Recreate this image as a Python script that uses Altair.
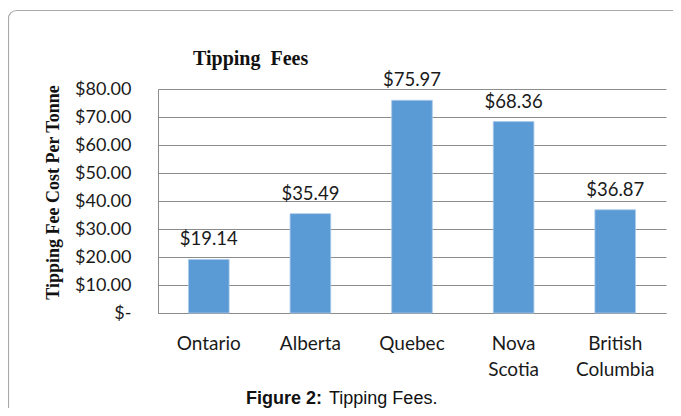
import altair as alt
import pandas as pd

provinces = ["Ontario", "Alberta", "Quebec", "Nova Scotia", "British Columbia"]
fees = [19.14, 35.49, 75.97, 68.36, 36.87]
fee_labels = ["$19.14", "$35.49", "$75.97", "$68.36", "$36.87"]
y_ticks = [0, 10, 20, 30, 40, 50, 60, 70, 80]
chart_title = ["Tipping\u00a0 Fees"]
caption_bold = ["Figure 2:"]
caption_regular = ["Tipping Fees."]

df = pd.DataFrame({"province": provinces, "fee": fees, "label": fee_labels})
one = pd.DataFrame({"title": chart_title, "cb": caption_bold, "cr": caption_regular})

W, H = 508, 224

x_enc = alt.X("province:N", sort=provinces,
              scale=alt.Scale(paddingInner=0.6, paddingOuter=0.3),
              axis=alt.Axis(title=None, labelAngle=0, labelFont="Lato", labelFontSize=19,
                            labelColor="#1a1a1a", labelPadding=21, ticks=False,
                            domainColor="#8c8c8c", labelLineHeight=26,
                            labelExpr="split(datum.label, ' ')", grid=False))
y_enc = alt.Y("fee:Q", scale=alt.Scale(domain=[0, 80], nice=False),
              axis=alt.Axis(title="Tipping Fee Cost Per Tonne", values=y_ticks,
                            labelExpr="datum.value == 0 ? '$-\u00a0\u00a0' : '$' + format(datum.value, '.2f')",
                            labelFont="Lato", labelFontSize=18, labelColor="#1a1a1a",
                            labelOverlap=False, labelPadding=27, ticks=False,
                            domainColor="#8c8c8c", gridColor="#8c8c8c", gridWidth=1,
                            titleFont="Liberation Serif", titleFontSize=18,
                            titleFontWeight="bold", titleColor="#111",
                            titleX=-96, titleY=103, titleAlign="center",
                            titleBaseline="bottom", titleAngle=270))

frame = alt.Chart(one).mark_rect(filled=False, stroke="#aaaaaa", strokeWidth=1.2,
                                 cornerRadius=8).encode(
    x=alt.value(-149.5), x2=alt.value(800), y=alt.value(-78.5), y2=alt.value(500))

bars = alt.Chart(df).mark_bar(color="#5B9BD5", stroke="#a9c9ea", strokeWidth=0.8).encode(
    x=x_enc, y=y_enc)

labels = alt.Chart(df).mark_text(font="Lato", fontSize=18.5, color="#1a1a1a",
                                 baseline="alphabetic", dy=-14).encode(
    x=x_enc, y=y_enc, text="label:N")

title_txt = alt.Chart(one).mark_text(font="Liberation Serif", fontSize=20, fontWeight="bold",
                                     color="#111", align="left", baseline="alphabetic").encode(
    x=alt.value(35), y=alt.value(-24), text="title:N")

cap_bold = alt.Chart(one).mark_text(font="Liberation Sans", fontSize=18, fontWeight="bold",
                                    color="#111", align="left", baseline="alphabetic").encode(
    x=alt.value(88), y=alt.value(315), text="cb:N")
cap_reg = alt.Chart(one).mark_text(font="Liberation Sans", fontSize=18, fontWeight="normal",
                                   color="#111", align="left", baseline="alphabetic").encode(
    x=alt.value(171), y=alt.value(315), text="cr:N")

chart = alt.layer(frame, bars, labels, title_txt, cap_bold, cap_reg).properties(
    width=W, height=H,
    autosize=alt.AutoSizeParams(type="none"),
    padding={"left": 150, "top": 81, "right": 7, "bottom": 95},
    background="white",
).configure_view(stroke=None)

chart.save("out.html", embed_options={"renderer": "svg", "actions": False})
